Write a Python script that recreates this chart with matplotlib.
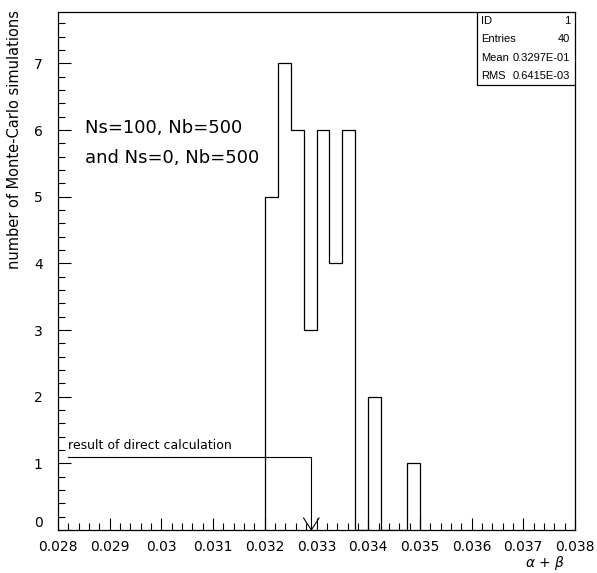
import matplotlib
matplotlib.use("Agg")
import matplotlib.pyplot as plt
import numpy as np
from matplotlib.patches import Rectangle
from matplotlib.ticker import MultipleLocator

# histogram contents (40 Monte-Carlo runs)
bin_lo = 0.032
bin_w = 0.00025
counts = [5, 7, 6, 3, 6, 4, 6, 0, 2, 0, 0, 1]
edges = bin_lo + bin_w * np.arange(len(counts) + 1)

# value from the direct calculation
direct_x = 0.0329
direct_y = 1.1

stat_names = ["ID", "Entries", "Mean", "RMS"]
stat_values = ["1", "40", "0.3297E-01", "0.6415E-03"]

xtick_labels = ["0.028", "0.029", "0.03", "0.031", "0.032", "0.033",
                "0.034", "0.035", "0.036", "0.037", "0.038"]

fig = plt.figure(figsize=(5.97, 5.73), dpi=100)
ax = fig.add_axes([58 / 597, 1 - 530 / 573, 517 / 597, 518 / 573])

ax.stairs(counts, edges, color="black", lw=0.9, baseline=0)

ax.set_xlim(0.028, 0.038)
ax.set_ylim(0, 7.77)
ax.set_xticks(np.arange(0.028, 0.0381, 0.001))
ax.set_xticklabels(xtick_labels)
ax.set_yticks(range(8))
ax.xaxis.set_minor_locator(MultipleLocator(0.0002))
ax.yaxis.set_minor_locator(MultipleLocator(0.2))
ax.tick_params(which="both", direction="in", top=False, right=False,
               labelsize=10, width=0.8)
ax.tick_params(which="major", length=9)
ax.tick_params(which="minor", length=5)
ax.tick_params(axis="x", which="major", pad=7)
ax.tick_params(axis="y", which="major", pad=11)
for s in ax.spines.values():
    s.set_linewidth(0.9)
# lift the "0" so it sits above the x labels
ax.yaxis.get_major_ticks()[0].label1.set_verticalalignment("bottom")

# arrow pointing at the direct result
ax.plot([0.0282, direct_x, direct_x], [direct_y, direct_y, 0],
        color="black", lw=0.8)
ax.plot([direct_x - 0.00015, direct_x, direct_x + 0.00015], [0.18, 0, 0.18],
        color="black", lw=0.8)
ax.text(0.0282, 1.27, "result of direct calculation", fontsize=9,
        ha="left", va="center")

ax.text(0.02852, 6.03, "Ns=100, Nb=500", fontsize=13, va="center")
ax.text(0.02852, 5.58, "and Ns=0, Nb=500", fontsize=13, va="center")

# statistics box
box_l, box_b = 0.810, 0.859
ax.add_patch(Rectangle((box_l, box_b), 1 - box_l, 1 - box_b,
                       transform=ax.transAxes, facecolor="white",
                       edgecolor="black", lw=0.9, zorder=5))
rows_y = [0.982, 0.947, 0.912, 0.877]
for name, val, yy in zip(stat_names, stat_values, rows_y):
    ax.text(0.818, yy, name, transform=ax.transAxes, fontsize=8,
            family="Liberation Sans", va="center", ha="left", zorder=6)
    ax.text(0.991, yy, val, transform=ax.transAxes, fontsize=8,
            family="Liberation Sans", va="center", ha="right", zorder=6)

fig.text(545 / 597, 1 - 563 / 573, r"$\alpha$ + $\beta$", fontsize=10,
         ha="center", va="center")
fig.text(15 / 597, 1 - 10 / 573, "number of Monte-Carlo simulations",
         fontsize=10.5, rotation=90, ha="center", va="top")

fig.savefig("out.png", dpi=100)
